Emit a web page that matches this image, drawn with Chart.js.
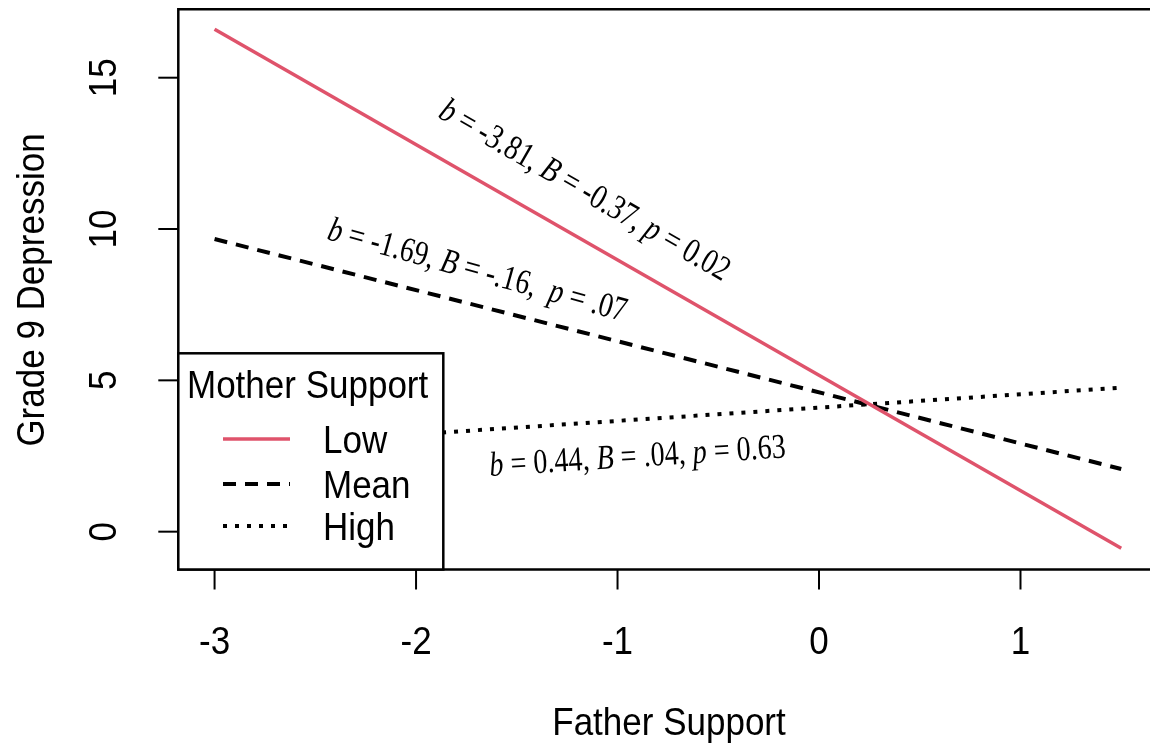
<!DOCTYPE html>
<html>
<head>
<meta charset="utf-8">
<script src="https://cdn.jsdelivr.net/npm/chart.js@4.4.1/dist/chart.umd.min.js"></script>
<style>
  html, body { margin: 0; padding: 0; background: #fff; overflow: hidden; }
  #wrap { width: 1160px; height: 747px; }
</style>
</head>
<body>
<div id="wrap"><canvas id="chart" width="1160" height="747"></canvas></div>
<script>
// values
const fatherSupport = [-3, 1.5];
const lowMother = [16.6, -0.55];
const meanMother = [9.67, 2.07];
const highMother = [2.78, 4.76];
const xTicks = [-3, -2, -1, 0, 1];
const yTicks = [0, 5, 10, 15];
const seriesLabels = ['Low', 'Mean', 'High'];

const SANS = "'Liberation Sans', Arial, Helvetica, sans-serif";
const SERIF = "'Liberation Serif', 'Times New Roman', Times, serif";
const STRETCH = 1.13; // text in the picture is a bit taller than wide

// slope annotations: pieces of text, italic flags, anchor (data units), angle (deg)
const notes = [
    { parts: [['b', true], [' = -3.81, ', false], ['B', true], [' = -0.37, ', false], ['p', true], [' = 0.02', false]], x: -1.165, y: 11.25, angle: 30 },
    { parts: [['b', true], [' = -1.69, ', false], ['B', true], [' = -.16,  ', false], ['p', true], [' = .07', false]], x: -1.697, y: 8.6, angle: 15.5 },
    { parts: [['b', true], [' = 0.44, ', false], ['B', true], [' = .04, ', false], ['p', true], [' = 0.63', false]], x: -0.9, y: 2.45, angle: -3.6 }
];

function toPoints(xs, ys) {
    return xs.map((x, i) => ({ x: x, y: ys[i] }));
}

// draw text a little taller, optionally rotated (radians)
function tallText(ctx, text, x, y, rot) {
    ctx.save();
    ctx.translate(x, y);
    if (rot) ctx.rotate(rot);
    ctx.scale(1, STRETCH);
    ctx.fillText(text, 0, 0);
    ctx.restore();
}

const rPlot = {
    id: 'rPlot',
    afterDatasetsDraw(chart) {
        const ctx = chart.ctx;
        const area = chart.chartArea;
        const xs = chart.scales.x;
        const ys = chart.scales.y;
        ctx.save();

        // annotations
        notes.forEach((n) => {
            const px = xs.getPixelForValue(n.x);
            const py = ys.getPixelForValue(n.y);
            let total = 0;
            const widths = n.parts.map(([t, it]) => {
                ctx.font = (it ? 'italic ' : '') + '29px ' + SERIF;
                const w = ctx.measureText(t).width;
                total += w;
                return w;
            });
            ctx.save();
            ctx.translate(px, py);
            ctx.rotate(n.angle * Math.PI / 180);
            ctx.scale(0.97, 1.2);
            ctx.fillStyle = '#000';
            ctx.textBaseline = 'middle';
            ctx.textAlign = 'left';
            let cx = -total / 2;
            n.parts.forEach(([t, it], i) => {
                ctx.font = (it ? 'italic ' : '') + '29px ' + SERIF;
                ctx.fillText(t, cx, 0);
                cx += widths[i];
            });
            ctx.restore();
        });

        // box (right side falls outside the picture)
        ctx.strokeStyle = '#000';
        ctx.lineWidth = 2.5;
        ctx.beginPath();
        ctx.moveTo(1160, area.top);
        ctx.lineTo(area.left, area.top);
        ctx.lineTo(area.left, area.bottom);
        ctx.lineTo(1160, area.bottom);
        ctx.stroke();

        // x axis ticks and labels
        ctx.lineWidth = 2;
        ctx.fillStyle = '#000';
        ctx.font = '35px ' + SANS;
        ctx.textAlign = 'center';
        ctx.textBaseline = 'alphabetic';
        xTicks.forEach((v) => {
            const px = xs.getPixelForValue(v);
            ctx.beginPath();
            ctx.moveTo(px, area.bottom);
            ctx.lineTo(px, area.bottom + 20);
            ctx.stroke();
            tallText(ctx, String(v), px, 654, 0);
        });
        tallText(ctx, 'Father Support', 669, 735, 0);

        // y axis ticks and labels (rotated like R)
        yTicks.forEach((v) => {
            const py = ys.getPixelForValue(v);
            ctx.beginPath();
            ctx.moveTo(area.left, py);
            ctx.lineTo(area.left - 20, py);
            ctx.stroke();
            tallText(ctx, String(v), 116, py, -Math.PI / 2);
        });
        tallText(ctx, 'Grade 9 Depression', 44, 290, -Math.PI / 2);

        // legend box, drawn over the lines
        const lx0 = area.left, ly0 = 353.3, lx1 = 443.3, ly1 = area.bottom;
        ctx.fillStyle = '#fff';
        ctx.fillRect(lx0, ly0, lx1 - lx0, ly1 - ly0);
        ctx.lineWidth = 2.5;
        ctx.strokeRect(lx0, ly0, lx1 - lx0, ly1 - ly0);
        ctx.fillStyle = '#000';
        ctx.textAlign = 'left';
        tallText(ctx, 'Mother Support', 187, 398, 0);
        const rows = [439, 484, 526];
        chart.data.datasets.forEach((ds, i) => {
            ctx.save();
            ctx.strokeStyle = ds.borderColor;
            ctx.lineWidth = ds.borderWidth;
            ctx.setLineDash(ds.borderDash || []);
            ctx.beginPath();
            ctx.moveTo(223, rows[i]);
            ctx.lineTo(290, rows[i]);
            ctx.stroke();
            ctx.restore();
            tallText(ctx, ds.label, 323, rows[i] + 14, 0);
        });

        ctx.restore();
    }
};

new Chart(document.getElementById('chart'), {
    type: 'line',
    data: {
        datasets: [
            {
                label: seriesLabels[0],
                data: toPoints(fatherSupport, lowMother),
                borderColor: '#DF536B',
                borderWidth: 3.5,
                borderDash: []
            },
            {
                label: seriesLabels[1],
                data: toPoints(fatherSupport, meanMother),
                borderColor: '#000',
                borderWidth: 4,
                borderDash: [13, 9]
            },
            {
                label: seriesLabels[2],
                data: toPoints(fatherSupport, highMother),
                borderColor: '#000',
                borderWidth: 4,
                borderDash: [4, 8]
            }
        ]
    },
    options: {
        responsive: false,
        animation: false,
        devicePixelRatio: 1,
        layout: { padding: { left: 178.3, top: 9.3, right: 2.5, bottom: 177.5 } },
        elements: {
            point: { radius: 0, hoverRadius: 0 },
            line: { tension: 0, borderCapStyle: 'butt', fill: false }
        },
        scales: {
            x: { type: 'linear', min: -3.18, max: 1.68, display: false },
            y: { type: 'linear', min: -1.25, max: 17.26, display: false }
        },
        plugins: {
            legend: { display: false },
            tooltip: { enabled: false },
            title: { display: false }
        },
        events: []
    },
    plugins: [rPlot]
});
</script>
</body>
</html>
